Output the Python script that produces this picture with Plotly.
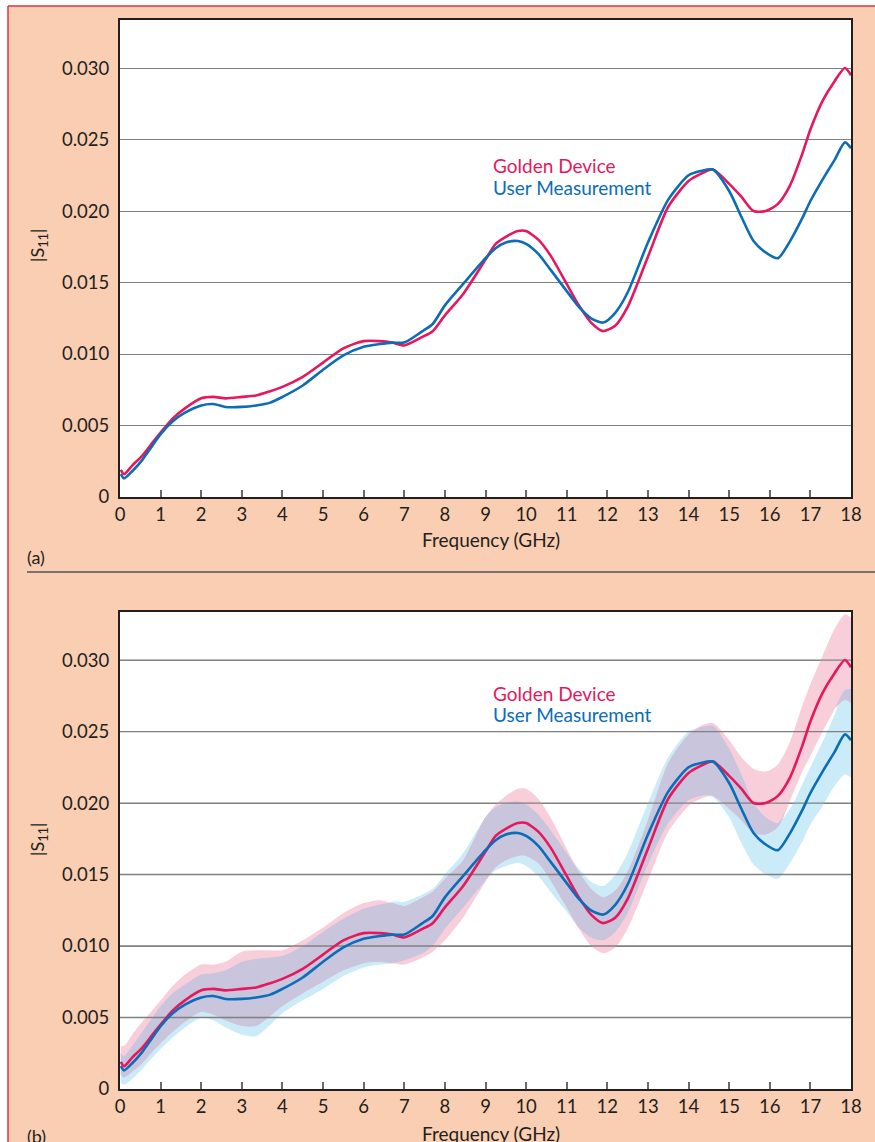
import plotly.graph_objects as go

# ---------------- data ----------------
freq = [0.02, 0.1, 0.3, 0.55, 0.8, 1.0, 1.3, 1.6, 2.0, 2.3, 2.6, 3.0, 3.35, 3.7, 4.0,
        4.5, 5.0, 5.5, 6.0, 6.4, 6.7, 7.0, 7.45, 7.7, 8.0, 8.45, 9.0, 9.25, 9.5, 9.8,
        10.0, 10.3, 10.6, 11.0, 11.3, 11.6, 11.9, 12.2, 12.5, 13.0, 13.5, 14.0, 14.3,
        14.6, 15.0, 15.3, 15.6, 15.9, 16.2, 16.5, 16.8, 17.0, 17.3, 17.6, 17.85, 18.0]

golden = [0.0019, 0.0016, 0.0022, 0.0029, 0.0038, 0.0045, 0.0055, 0.0062, 0.0069, 0.0070,
          0.0069, 0.0070, 0.0071, 0.0074, 0.0077, 0.0084, 0.0094, 0.0104, 0.0109, 0.0109,
          0.0108, 0.0106, 0.0112, 0.0116, 0.0127, 0.0142, 0.0166, 0.0177, 0.0182, 0.0186,
          0.0186, 0.0180, 0.0169, 0.0149, 0.0134, 0.0122, 0.0116, 0.0120, 0.0133, 0.0168,
          0.0203, 0.0221, 0.0226, 0.0229, 0.0219, 0.0210, 0.0200, 0.0200, 0.0205, 0.0218,
          0.0240, 0.0257, 0.0277, 0.0291, 0.0300, 0.0295]

user = [0.0016, 0.0013, 0.0018, 0.0026, 0.0036, 0.0044, 0.0053, 0.0059, 0.0064, 0.0065,
        0.0063, 0.0063, 0.0064, 0.0066, 0.0070, 0.0078, 0.0089, 0.0099, 0.0105, 0.0107,
        0.0108, 0.0108, 0.0116, 0.0121, 0.0134, 0.0149, 0.0167, 0.0174, 0.0178, 0.0179,
        0.0177, 0.0170, 0.0159, 0.0144, 0.0133, 0.0125, 0.0122, 0.0129, 0.0143, 0.0178,
        0.0208, 0.0225, 0.0228, 0.0229, 0.0214, 0.0196, 0.0179, 0.0171, 0.0167, 0.0179,
        0.0195, 0.0207, 0.0222, 0.0236, 0.0248, 0.0244]

golden_hi = [0.0030, 0.0030, 0.0038, 0.0047, 0.0055, 0.0062, 0.0072, 0.0080, 0.0087, 0.0087,
             0.0089, 0.0096, 0.0097, 0.0097, 0.0097, 0.0104, 0.0113, 0.0123, 0.0130, 0.0132,
             0.0130, 0.0128, 0.0134, 0.0138, 0.0147, 0.0160, 0.0190, 0.0199, 0.0205, 0.0210,
             0.0210, 0.0203, 0.0190, 0.0168, 0.0152, 0.0140, 0.0134, 0.0139, 0.0152, 0.0188,
             0.0228, 0.0248, 0.0254, 0.0256, 0.0244, 0.0232, 0.0224, 0.0222, 0.0227, 0.0243,
             0.0268, 0.0283, 0.0303, 0.0322, 0.0332, 0.0330]

golden_lo = [0.0010, 0.0008, 0.0012, 0.0018, 0.0026, 0.0032, 0.0040, 0.0047, 0.0054, 0.0052,
             0.0048, 0.0044, 0.0044, 0.0051, 0.0058, 0.0067, 0.0075, 0.0083, 0.0088, 0.0089,
             0.0088, 0.0087, 0.0092, 0.0096, 0.0104, 0.0120, 0.0145, 0.0155, 0.0160, 0.0163,
             0.0163, 0.0158, 0.0146, 0.0127, 0.0112, 0.0100, 0.0095, 0.0099, 0.0112, 0.0146,
             0.0180, 0.0198, 0.0203, 0.0205, 0.0196, 0.0188, 0.0179, 0.0178, 0.0183, 0.0202,
             0.0222, 0.0233, 0.0250, 0.0266, 0.0272, 0.0270]

user_hi = [0.0025, 0.0023, 0.0030, 0.0040, 0.0050, 0.0058, 0.0067, 0.0073, 0.0080, 0.0081,
           0.0083, 0.0089, 0.0091, 0.0092, 0.0093, 0.0100, 0.0110, 0.0119, 0.0126, 0.0129,
           0.0131, 0.0131, 0.0136, 0.0140, 0.0150, 0.0165, 0.0190, 0.0197, 0.0200, 0.0201,
           0.0199, 0.0192, 0.0181, 0.0165, 0.0154, 0.0145, 0.0142, 0.0150, 0.0165, 0.0200,
           0.0232, 0.0250, 0.0253, 0.0254, 0.0238, 0.0220, 0.0200, 0.0190, 0.0186, 0.0196,
           0.0213, 0.0225, 0.0243, 0.0262, 0.0279, 0.0280]

user_lo = [0.0004, 0.0003, 0.0007, 0.0014, 0.0022, 0.0028, 0.0036, 0.0043, 0.0050, 0.0048,
           0.0043, 0.0038, 0.0037, 0.0045, 0.0053, 0.0062, 0.0070, 0.0079, 0.0085, 0.0087,
           0.0088, 0.0090, 0.0095, 0.0100, 0.0112, 0.0127, 0.0146, 0.0153, 0.0156, 0.0158,
           0.0156, 0.0149, 0.0138, 0.0124, 0.0113, 0.0106, 0.0104, 0.0110, 0.0123, 0.0157,
           0.0186, 0.0202, 0.0205, 0.0204, 0.0190, 0.0172, 0.0157, 0.0150, 0.0147, 0.0158,
           0.0173, 0.0185, 0.0198, 0.0212, 0.0220, 0.0218]

y_tickvals = [0, 0.005, 0.010, 0.015, 0.020, 0.025, 0.030]
y_ticktext = ["0", "0.005", "0.010", "0.015", "0.020", "0.025", "0.030"]
x_tickvals = list(range(0, 19))

series_names = ["Golden Device", "User Measurement"]

# ---------------- styles ----------------
W, H = 875, 1142
RED = "#E8175D"
BLUE = "#0B6DB7"
PINK_BAND = "#F8CEDB"
CYAN_BAND = "#CCEBF8"
OVER_BAND = "#C8C5DD"
PEACH = "#FACEB2"
GRID = "#808080"
AXIS = "#231F20"
FONT = "Lato"

def px_x(p):
    return p / W

def px_y(p):
    return 1 - p / H

X_DOM = [px_x(120), px_x(851)]
A_DOM = [px_y(497), px_y(20)]
B_DOM = [px_y(1089), px_y(612)]
Y_MAX = 0.03336

fig = go.Figure()

line_kw = dict(shape="spline", smoothing=0.7)

# panel (a)
fig.add_trace(go.Scatter(x=freq, y=golden, mode="lines", xaxis="x", yaxis="y",
                         line=dict(color=RED, width=2.6, **line_kw), showlegend=False))
fig.add_trace(go.Scatter(x=freq, y=user, mode="lines", xaxis="x", yaxis="y",
                         line=dict(color=BLUE, width=2.6, **line_kw), showlegend=False))

# panel (b) bands
ov_lo = [max(a, b) for a, b in zip(golden_lo, user_lo)]
ov_hi = [max(min(a, b), lo) for a, b, lo in zip(golden_hi, user_hi, ov_lo)]

def band(lo, hi, color):
    fig.add_trace(go.Scatter(x=freq, y=lo, mode="lines", xaxis="x2", yaxis="y2",
                             line=dict(width=0, color=color, **line_kw), showlegend=False,
                             hoverinfo="skip"))
    fig.add_trace(go.Scatter(x=freq, y=hi, mode="lines", xaxis="x2", yaxis="y2",
                             line=dict(width=0, color=color, **line_kw), fill="tonexty",
                             fillcolor=color, showlegend=False, hoverinfo="skip"))

band(user_lo, user_hi, CYAN_BAND)
band(golden_lo, golden_hi, PINK_BAND)
band(ov_lo, ov_hi, OVER_BAND)

# gridlines above the bands in panel (b)
for v in y_tickvals[1:]:
    fig.add_trace(go.Scatter(x=[0, 18], y=[v, v], mode="lines", xaxis="x2", yaxis="y2",
                             line=dict(color=GRID, width=1.3), showlegend=False,
                             hoverinfo="skip"))

fig.add_trace(go.Scatter(x=freq, y=golden, mode="lines", xaxis="x2", yaxis="y2",
                         line=dict(color=RED, width=2.6, **line_kw), showlegend=False))
fig.add_trace(go.Scatter(x=freq, y=user, mode="lines", xaxis="x2", yaxis="y2",
                         line=dict(color=BLUE, width=2.6, **line_kw), showlegend=False))

tick_font = dict(family=FONT, size=18.5, color=AXIS)
xaxis_common = dict(domain=X_DOM, range=[0, 18], tickvals=x_tickvals, ticks="inside",
                    ticklen=7, tickwidth=1.5, tickcolor="#6b6b6b", showline=True,
                    linecolor=AXIS, linewidth=2, mirror=True, showgrid=False,
                    zeroline=False, automargin=False, tickfont=tick_font)
yaxis_common = dict(range=[0, Y_MAX], tickvals=y_tickvals, ticktext=y_ticktext,
                    ticks="", showline=True, linecolor=AXIS, linewidth=2, mirror=True,
                    showgrid=True, gridcolor=GRID, gridwidth=1.3, zeroline=False,
                    automargin=False, ticklabelstandoff=5, tickfont=tick_font)

fig.update_layout(
    width=W, height=H,
    margin=dict(l=0, r=0, t=0, b=0),
    paper_bgcolor=PEACH, plot_bgcolor="white",
    xaxis=dict(anchor="y", **xaxis_common),
    yaxis=dict(anchor="x", domain=A_DOM, **yaxis_common),
    xaxis2=dict(anchor="y2", **xaxis_common),
    yaxis2=dict(anchor="x2", domain=B_DOM, **yaxis_common),
    font=dict(family=FONT, color=AXIS),
)

shapes = [
    # white strips outside the red frame
    dict(type="rect", xref="paper", yref="paper", x0=0, x1=1, y0=px_y(6), y1=1.01,
         fillcolor="white", line=dict(width=0), layer="below"),
    dict(type="rect", xref="paper", yref="paper", x0=-0.01, x1=px_x(8), y0=-0.01, y1=1.01,
         fillcolor="white", line=dict(width=0), layer="below"),
    # red frame
    dict(type="line", xref="paper", yref="paper", x0=px_x(8), x1=1.01, y0=px_y(6), y1=px_y(6),
         line=dict(color="#E2323F", width=1.5)),
    dict(type="line", xref="paper", yref="paper", x0=px_x(8), x1=px_x(8), y0=-0.01, y1=px_y(6),
         line=dict(color="#E2323F", width=1.5)),
    # separator between panels
    dict(type="line", xref="paper", yref="paper", x0=px_x(27), x1=1.01, y0=px_y(572),
         y1=px_y(572), line=dict(color="#555555", width=1.3)),
]
fig.update_layout(shapes=shapes)

ann = []
txt = dict(family=FONT, size=19, color=AXIS)
for name_y, leg_y, lab, lab_y in [
    (246, 166, "(a)", 557),
    (840, 693, "(b)", 1136),
]:
    ann.append(dict(text="|S<sub>11</sub>|", x=px_x(38), y=px_y(name_y), xref="paper",
                    yref="paper", textangle=-90, showarrow=False,
                    font=dict(family=FONT, size=18, color=AXIS),
                    xanchor="center", yanchor="middle"))
    ann.append(dict(text=series_names[0], x=px_x(492), y=px_y(leg_y), xref="paper",
                    yref="paper", showarrow=False, xanchor="left", yanchor="middle",
                    borderpad=0, font=dict(family=FONT, size=19, color=RED)))
    ann.append(dict(text=series_names[1], x=px_x(492), y=px_y(leg_y + 21.5), xref="paper",
                    yref="paper", showarrow=False, xanchor="left", yanchor="middle",
                    borderpad=0, font=dict(family=FONT, size=19, color=BLUE)))
    ann.append(dict(text=lab, x=px_x(25), y=px_y(lab_y), xref="paper", yref="paper",
                    showarrow=False, xanchor="left", yanchor="middle",
                    font=dict(family=FONT, size=18, color=AXIS)))

ann.append(dict(text="Frequency (GHz)", x=px_x(491), y=px_y(540), xref="paper", yref="paper",
                showarrow=False, xanchor="center", yanchor="middle", font=txt))
ann.append(dict(text="Frequency (GHz)", x=px_x(491), y=px_y(1133), xref="paper",
                yref="paper", showarrow=False, xanchor="center", yanchor="middle", font=txt))
fig.update_layout(annotations=ann)

fig.write_html("out.html", config={"displayModeBar": False},
               post_script="document.body.style.margin='0';document.body.style.overflow='hidden';")
